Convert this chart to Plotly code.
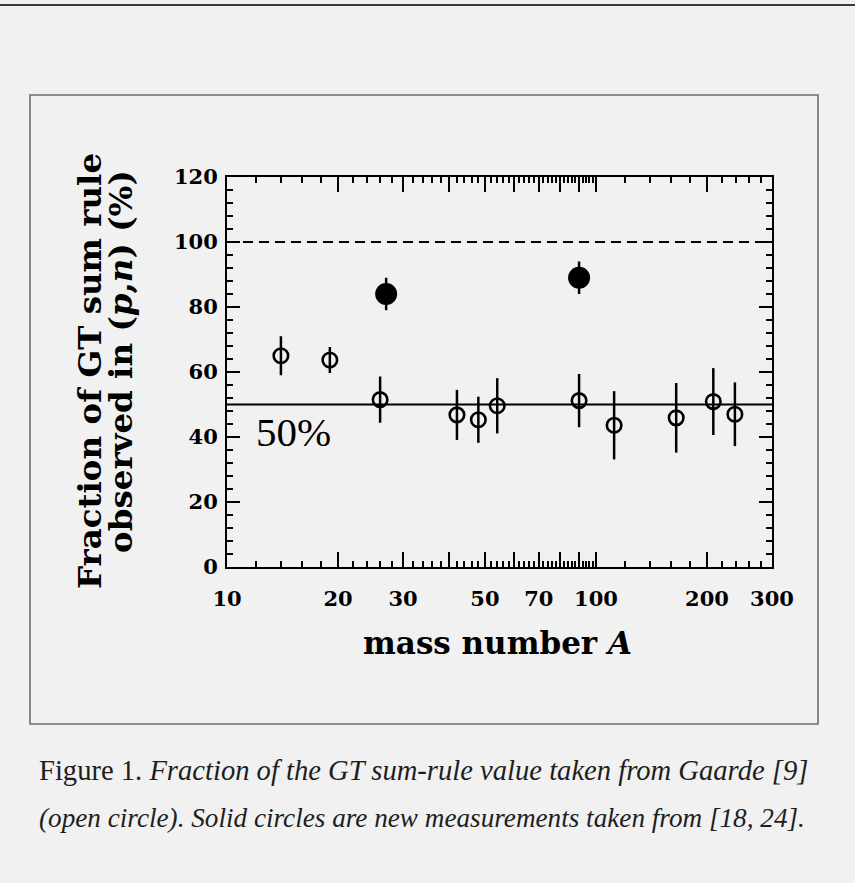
import numpy as np
import plotly.graph_objects as go

# ---- data -------------------------------------------------------------
# Gaarde (p,n) results: open circles
open_A = [14, 19, 26, 42, 48, 54, 90, 112, 165, 208, 238]
open_frac = [65.0, 63.7, 51.5, 46.8, 45.3, 49.6, 51.2, 43.6, 45.9, 50.9, 47.0]
open_err = [6.0, 4.0, 7.1, 7.7, 7.1, 8.5, 8.2, 10.5, 10.7, 10.3, 9.8]

# new measurements: solid circles
new_A = [27, 90]
new_frac = [84.0, 89.0]
new_err = [5.0, 5.0]

# reference levels
full_sum_rule = 100
half_level = 50

# axis ticks
x_major = [10, 20, 30, 40, 50, 60, 70, 80, 90, 100, 200, 300]
x_major_text = ["10", "20", "30", "", "50", "", "70", "", "", "100", "200", "300"]
x_minor = ([v for v in range(12, 100, 2) if v % 10 != 0]
           + [120, 140, 160, 180, 220, 240, 260, 280])
y_major = [0, 20, 40, 60, 80, 100, 120]

caption_1 = "Figure 1. <i>Fraction of the GT sum-rule value taken from Gaarde [9]</i>"
caption_2 = "<i>(open circle). Solid circles are new measurements taken from [18, 24].</i>"

# ---- page geometry (pixels) -------------------------------------------
W, H = 855, 883
PL, PR, PT, PB = 227, 772, 177, 567


def px(x):
    return (x - PL) / (PR - PL)


def py(y):
    return (PB - y) / (PB - PT)


BG = "#f1f1f1"
TICKFONT = dict(family="DejaVu Serif", size=21, color="black", weight="bold")
XTITLEFONT = dict(family="DejaVu Serif", size=31, color="black", weight="bold")
YTITLEFONT = dict(family="DejaVu Serif", size=32.5, color="black", weight="bold")

fig = go.Figure()

fig.add_trace(go.Scatter(
    x=open_A, y=open_frac, mode="markers",
    error_y=dict(type="data", array=open_err, width=0, thickness=2.5, color="black"),
    marker=dict(symbol="circle-open", size=14.5, color="black",
                line=dict(width=2.6, color="black")),
    hoverinfo="x+y",
))
fig.add_trace(go.Scatter(
    x=new_A, y=new_frac, mode="markers",
    error_y=dict(type="data", array=new_err, width=0, thickness=2.5, color="black"),
    marker=dict(symbol="circle", size=22, color="black",
                line=dict(width=0)),
    hoverinfo="x+y",
))

# 100 % (dashed) and 50 % (solid) guide lines
fig.add_shape(type="line", xref="paper", yref="y", x0=0, x1=1,
              y0=full_sum_rule, y1=full_sum_rule,
              line=dict(color="black", width=2, dash="10px,6px"), layer="below")
fig.add_shape(type="line", xref="paper", yref="y", x0=0, x1=1,
              y0=half_level, y1=half_level,
              line=dict(color="black", width=1.8), layer="below")

# figure frame and page rule
fig.add_shape(type="rect", xref="paper", yref="paper",
              x0=px(30), x1=px(818), y0=py(724), y1=py(95),
              line=dict(color="#6e6e6e", width=1.6))
fig.add_shape(type="line", xref="paper", yref="paper",
              x0=px(-5), x1=px(860), y0=py(5), y1=py(5),
              line=dict(color="#3a3a3a", width=2))

annotations = [
    dict(text=f"{half_level}%", x=np.log10(11.8), y=41.5, xref="x", yref="y",
         xanchor="left", yanchor="middle", showarrow=False,
         font=dict(family="Liberation Serif", size=41, color="black")),
    dict(text="mass number <i>A</i>", x=px(497), y=py(643), xref="paper", yref="paper",
         xanchor="center", yanchor="middle", showarrow=False, font=XTITLEFONT),
    dict(text="Fraction of GT sum rule", x=px(89), y=py(371), xref="paper", yref="paper",
         xanchor="center", yanchor="middle", showarrow=False, textangle=-90,
         font=YTITLEFONT),
    dict(text="observed in (<i>p</i>,<i>n</i>) (%)", x=px(120), y=py(362),
         xref="paper", yref="paper", xanchor="center", yanchor="middle",
         showarrow=False, textangle=-90, font=YTITLEFONT),
    dict(text=caption_1, x=px(37), y=py(770), xref="paper", yref="paper",
         xanchor="left", yanchor="middle", showarrow=False,
         font=dict(family="Liberation Serif", size=28.6, color="#1e1e1e")),
    dict(text=caption_2, x=px(37), y=py(818), xref="paper", yref="paper",
         xanchor="left", yanchor="middle", showarrow=False,
         font=dict(family="Liberation Serif", size=27.2, color="#1e1e1e")),
]

fig.update_layout(
    width=W, height=H,
    margin=dict(l=PL, r=W - PR, t=PT, b=H - PB, pad=0),
    paper_bgcolor=BG, plot_bgcolor=BG,
    showlegend=False,
    annotations=annotations,
    xaxis=dict(
        type="log", range=[1, np.log10(300)],
        tickmode="array", tickvals=x_major, ticktext=x_major_text,
        ticks="inside", ticklen=15, tickwidth=2, tickcolor="black",
        showline=True, linewidth=2, linecolor="black", mirror="allticks",
        showgrid=False, zeroline=False, tickfont=TICKFONT,
        ticklabelstandoff=12,
        minor=dict(tickmode="array", tickvals=x_minor, ticks="inside",
                   ticklen=6, tickwidth=1.5, tickcolor="black", showgrid=False),
    ),
    yaxis=dict(
        range=[0, 120],
        tickmode="array", tickvals=y_major,
        ticks="inside", ticklen=13, tickwidth=2, tickcolor="black",
        showline=True, linewidth=2, linecolor="black", mirror="allticks",
        showgrid=False, zeroline=False, tickfont=TICKFONT,
        ticklabelstandoff=3,
        minor=dict(dtick=4, ticks="inside", ticklen=6, tickwidth=1.5,
                   tickcolor="black", showgrid=False),
    ),
)

fig.write_html("out.html")
